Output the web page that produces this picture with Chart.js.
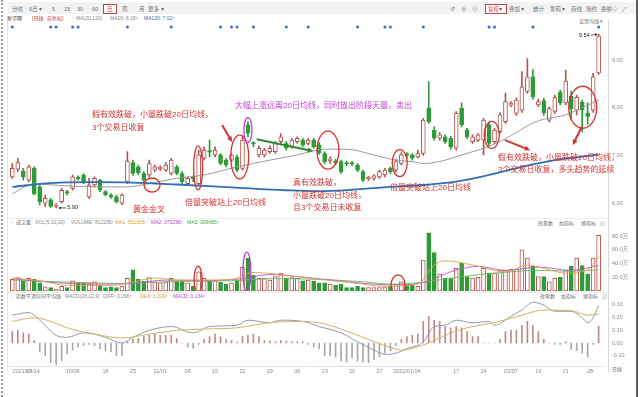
<!DOCTYPE html>
<html lang="zh-CN">
<head>
<meta charset="utf-8">
<title>日K线</title>
<script src="https://cdn.jsdelivr.net/npm/chart.js@4.4.1/dist/chart.umd.min.js"></script>
<style>
  html, body { margin: 0; padding: 0; }
  body { width: 640px; height: 397px; position: relative; overflow: hidden; background: #fff;
         font-family: 'Liberation Sans', 'Noto Sans CJK SC', sans-serif; }
  .pane { position: absolute; left: 0; }
  .lb { position: absolute; white-space: nowrap; line-height: 1; transform: scale(.5); transform-origin: 0 0; }
  .rule { position: absolute; }
</style>
</head>
<body>
<div class="rule" style="left:1px;top:0;width:0;height:397px;border-left:2px dotted #9a9a9a"></div>
<div class="rule" style="left:8px;top:2px;width:628px;height:12px;background:#f3f3f3"></div>
<div class="rule" style="left:103px;top:4px;width:12px;height:8px;border:1px solid #b44;background:#fff"></div>
<div class="rule" style="left:485px;top:4px;width:20px;height:8px;border:1px solid #b44;background:#fff"></div>
<div class="rule" style="left:7px;top:20px;width:1px;height:352px;background:#e6e6e6"></div>
<div class="rule" style="left:608px;top:20px;width:1px;height:352px;background:#d8d8d8"></div>
<div class="rule" style="left:636px;top:0;width:2px;height:397px;background:#5e5e5e"></div>
<div class="rule" style="left:8px;top:218px;width:600px;height:1px;background:#eeeeee"></div>
<div class="rule" style="left:8px;top:292px;width:600px;height:1px;background:#eeeeee"></div>

<canvas id="priceChart" class="pane" style="top:24px" width="640" height="194"></canvas>
<canvas id="volumeChart" class="pane" style="top:226px" width="640" height="65"></canvas>
<canvas id="macdChart" class="pane" style="top:300px" width="640" height="78"></canvas>

<script>
// ---- data ----
const tradingDays = {
  '2021/09': [14, 15, 16, 17, 22, 23, 24, 27, 28, 29, 30],
  '2021/10': [8, 11, 12, 13, 14, 15, 18, 19, 20, 21, 22, 25, 26, 27, 28, 29],
  '2021/11': [1, 2, 3, 4, 5, 8, 9, 10, 11, 12, 15, 16, 17, 18, 19, 22, 23, 24, 25, 26, 29, 30],
  '2021/12': [1, 2, 3, 6, 7, 8, 9, 10, 13, 14, 15, 16, 17, 20, 21, 22, 23, 24, 27, 28, 29, 30, 31],
  '2022/01': [4, 5, 6, 7, 10, 11, 12, 13, 14, 17, 18, 19, 20, 21, 24, 25, 26, 27, 28],
  '2022/02': [7, 8, 9, 10, 11, 14, 15, 16, 17, 18, 21, 22, 23, 24, 25, 28],
  '2022/03': [1]
};

const opens = [6.55,6.71,6.67,6.48,6.73,6.34,6.00,6.07,5.93,6.03,6.24,6.31,6.53,6.59,6.13,6.38,6.48,6.24,6.17,6.13,
  6.00,6.45,6.85,6.76,6.62,6.59,6.69,6.72,6.69,6.62,6.76,6.62,6.41,6.52,6.41,6.94,7.09,7.01,7.01,6.90,
  6.90,6.97,6.73,7.64,7.26,7.01,7.01,7.08,7.08,7.29,7.25,7.18,7.29,7.32,7.25,7.32,7.22,7.04,6.89,6.87,
  6.87,6.84,6.83,6.80,6.66,6.51,6.52,6.55,6.59,6.73,6.69,6.83,7.01,7.01,6.97,7.04,7.99,7.53,7.36,7.39,
  7.36,7.15,7.99,7.53,7.29,7.32,7.32,7.64,7.29,7.50,7.71,8.06,7.88,7.95,8.34,8.65,8.06,8.15,7.74,7.92,
  8.33,8.10,8.24,7.95,8.12,7.89,7.95,8.73];
const highs = [6.83,6.94,6.73,6.80,6.76,6.38,6.17,6.10,5.99,6.31,6.27,6.59,6.57,6.62,6.52,6.55,6.50,6.27,6.20,6.17,
  6.20,7.08,6.90,6.80,6.66,6.90,6.80,6.78,6.85,6.94,6.80,6.66,6.55,6.57,7.11,7.18,7.32,7.18,7.04,6.94,
  7.04,7.01,7.39,7.71,7.29,7.20,7.15,7.20,7.29,7.46,7.29,7.36,7.39,7.36,7.36,7.36,7.27,7.08,6.97,6.92,
  6.90,6.88,6.87,6.83,6.69,6.56,6.60,6.69,6.73,6.76,6.92,7.06,7.06,7.04,7.11,7.78,8.55,7.60,7.48,7.43,
  7.40,7.92,8.10,7.57,7.43,7.46,7.78,7.68,7.57,7.90,8.30,8.13,8.20,8.76,9.03,8.80,8.18,8.20,8.02,8.26,
  8.37,8.79,8.35,8.26,8.16,8.10,8.72,9.54];
const lows = [6.52,6.66,6.48,6.45,6.17,5.96,5.93,5.91,5.90,6.00,6.17,6.27,6.48,6.41,6.10,6.34,6.24,6.15,6.10,6.00,
  5.97,6.41,6.58,6.59,6.45,6.55,6.66,6.68,6.66,6.59,6.59,6.41,6.38,6.45,6.38,6.90,6.97,6.97,6.80,6.76,
  6.87,6.66,6.69,7.39,7.18,6.97,6.97,7.04,7.04,7.25,7.11,7.15,7.25,7.18,7.22,7.15,7.02,6.83,6.83,6.80,
  6.62,6.78,6.78,6.66,6.45,6.47,6.48,6.52,6.55,6.62,6.66,6.80,6.94,6.90,6.94,7.00,7.67,7.32,7.32,7.25,
  7.13,7.11,7.60,7.35,7.25,7.29,7.01,7.20,7.25,7.46,7.67,8.02,7.84,7.90,8.30,8.18,8.02,7.84,7.70,7.88,
  8.06,8.06,7.75,7.85,7.50,7.65,7.90,8.70];
const closes = [6.73,6.85,6.55,6.76,6.20,6.03,6.10,5.93,5.96,6.27,6.21,6.55,6.51,6.45,6.38,6.52,6.27,6.17,6.13,6.03,
  6.17,6.88,6.62,6.64,6.48,6.83,6.76,6.73,6.80,6.90,6.62,6.45,6.52,6.51,7.01,7.11,7.07,7.11,6.83,6.80,
  7.01,6.69,7.32,7.46,7.24,7.15,7.11,7.15,7.25,7.39,7.15,7.32,7.36,7.22,7.32,7.18,7.05,6.87,6.90,6.85,
  6.66,6.82,6.82,6.69,6.48,6.52,6.57,6.66,6.69,6.66,6.87,7.01,7.00,6.94,7.04,7.74,7.71,7.36,7.43,7.29,
  7.18,7.88,7.64,7.39,7.39,7.43,7.74,7.25,7.53,7.85,8.13,8.08,8.16,8.44,8.65,8.23,8.13,7.89,7.98,8.21,
  8.10,8.56,7.98,8.22,7.95,7.82,8.65,9.50];

// volume in 万 shares
const volumes = [17,19.5,14.6,18.5,17,12,6,5,2.5,7,5,15,12,12,11,13.5,8.5,5,6,5,
  7,18.5,31,17,14,19.5,13.5,12,13.5,18.5,13.5,14.5,12,7,28,18.5,15,15,12.5,10,
  12,16,34.6,47.7,23,18.5,18.5,16,21,26,18.5,19.5,18.5,15,16,14.5,12,12,10,8.5,
  10,5,5,7,5,5,5,5,6,7,10,13.5,8.5,8.5,7,45,85,56,25,18.5,
  18.5,33,40.4,21,19,20,33,26,26,31,30,32,32,60,48,36.5,21,21,13.5,18.5,
  20,30,36.5,48,37,25,48,81.2];

const macdHist = [0.09,0.10,0.08,0.07,0.02,-0.07,-0.10,-0.155,-0.17,-0.14,-0.085,-0.055,-0.03,-0.02,-0.01,-0.02,-0.045,-0.06,-0.07,-0.10,
  -0.10,0.01,0.03,0.035,0.05,0.06,0.07,0.06,0.06,0.06,0.035,0.00,-0.03,-0.04,-0.01,0.03,0.05,0.07,0.05,0.03,
  0.02,0.01,0.05,0.06,0.07,0.05,0.02,0.015,0.01,0.02,0.015,0.01,0.01,0.01,-0.01,-0.03,-0.045,-0.10,-0.10,-0.11,
  -0.14,-0.15,-0.12,-0.14,-0.15,-0.155,-0.13,-0.11,-0.08,-0.06,-0.02,0.03,0.05,0.06,0.07,0.17,0.21,0.18,0.17,0.13,
  0.12,0.13,0.12,0.09,0.05,0.05,0.00,0.00,0.00,0.03,0.09,0.10,0.10,0.14,0.17,0.14,0.09,0.03,0.00,-0.01,
  -0.01,0.01,-0.05,-0.06,-0.08,-0.11,-0.01,0.134];

// moving-average lines, read as [candle index, value]
const ma20Pts = [[0,6.20],[4,6.40],[10,6.36],[16,6.34],[21,6.34],[25,6.41],[30,6.52],[35,6.59],[41,6.76],[47,6.90],
  [52,7.01],[57,7.13],[61,7.13],[66,7.01],[70,6.90],[73,6.87],[75,6.83],[79,6.90],[82,7.01],[86,7.15],
  [90,7.35],[93,7.55],[95,7.68],[97,7.76],[101,7.85],[104,8.00],[107,8.16]];
const ma120Pts = [[0,6.34],[7,6.42],[15,6.44],[22,6.43],[30,6.39],[40,6.33],[50,6.27],[56,6.25],[62,6.28],[69,6.34],
  [75,6.38],[81,6.45],[87,6.59],[93,6.76],[99,6.90],[103,6.96],[107,7.02]];
const volMa1Pts = [[0,19],[5,15],[10,8],[18,8],[22,13],[26,19],[30,16],[35,16],[40,17],[44,27],[48,25],[52,21],
  [56,17],[62,12],[68,7],[74,10],[77,38],[79,44],[84,38],[90,28],[94,38],[97,33],[101,26],[105,31],[107,50.1]];
const volMa2Pts = [[0,18],[8,12],[15,10],[22,11],[28,16],[35,15],[42,18],[47,24],[52,21],[57,17],[63,12],[69,9],
  [75,12],[80,28],[85,36],[90,30],[96,35],[102,30],[107,37.3]];
const volMa3Pts = [[0,16],[10,13],[20,11],[30,14],[40,15],[48,18],[56,17],[63,14],[70,10],[76,14],[82,21],[88,26],
  [96,30],[102,29],[107,30.9]];
const diffPts = [[0,0.22],[3,0.24],[5,0.18],[8,0.06],[10,0.045],[13,0.08],[15,0.07],[17,0.045],[20,0.00],[22,0.045],
  [25,0.10],[29,0.13],[33,0.08],[36,0.13],[41,0.14],[43,0.18],[47,0.16],[49,0.18],[53,0.17],[56,0.13],
  [60,0.08],[63,0.01],[66,-0.055],[68,-0.09],[70,-0.08],[72,-0.045],[75,0.01],[77,0.13],[79,0.14],[81,0.18],
  [84,0.16],[87,0.17],[88,0.14],[91,0.21],[93,0.26],[95,0.32],[97,0.30],[99,0.25],[102,0.25],[104,0.20],
  [105,0.16],[106,0.20],[107,0.296]];
const deaPts = [[0,0.17],[4,0.20],[7,0.17],[10,0.12],[15,0.07],[20,0.04],[25,0.07],[30,0.10],[35,0.11],[41,0.12],
  [47,0.16],[53,0.17],[56,0.16],[60,0.11],[64,0.045],[68,-0.02],[71,-0.055],[74,-0.03],[77,0.02],[80,0.08],
  [84,0.13],[88,0.16],[93,0.22],[97,0.26],[102,0.255],[105,0.22],[107,0.229]];

// info markers above the candles (candle indices)
const eventIdx = [0, 7, 8, 11, 12, 21, 29, 38, 40, 41, 44, 50, 54, 63, 68, 69, 75, 87, 88, 95, 107];

// tick labels
const priceTicks = [6, 7, 8, 9];
const volumeTicks = [20, 40, 60, 80];
const macdTicks = [-0.1, 0, 0.1, 0.2, 0.3];
const tickDates = ['2021/09/14','2021/09/17','2021/10/08','2021/10/18','2021/10/25','2021/11/01','2021/11/08',
  '2021/11/15','2021/11/22','2021/11/29','2021/12/06','2021/12/13','2021/12/20','2021/12/27','2022/01/04',
  '2022/01/17','2022/01/24','2022/02/07','2022/02/14','2022/02/21','2022/02/28'];
const tickLabels = ['2021/09/14','17','10/08','18','25','11/01','08','15','22','29','06','13','20','27',
  '2022/01/04','17','24','02/07','14','21','28'];

// ---- build ----
const categories = [];
Object.keys(tradingDays).forEach(m => tradingDays[m].forEach(d => categories.push(m + '/' + String(d).padStart(2, '0'))));
const N = categories.length;
const idx = categories.map((_, i) => i);
const tickIdx = tickDates.map(d => categories.indexOf(d));

const UP = '#b5524c', DOWN = '#2f9b38';
const isUp = i => closes[i] >= opens[i];
const pts = arr => arr.map(([x, y]) => ({ x, y }));

Chart.defaults.animation = false;
Chart.defaults.events = [];
Chart.defaults.font.family = "'Liberation Sans', 'Noto Sans CJK SC', sans-serif";
Chart.defaults.plugins.legend.display = false;
Chart.defaults.plugins.tooltip.enabled = false;

function indexAxis(show) {
  return {
    type: 'linear', min: -0.5, max: N - 0.2, offset: false, display: show,
    grid: { display: false, drawTicks: false },
    border: { display: show, color: '#e4e4e4' },
    ticks: {
      autoSkip: false, maxRotation: 0, minRotation: 0, align: 'inner', padding: 2,
      color: '#8a8a8a', font: { size: 5.5 },
      callback: v => tickLabels[tickIdx.indexOf(v)]
    },
    afterBuildTicks: s => { s.ticks = tickIdx.map(v => ({ value: v })); },
    afterFit: s => {
      if (show) s.height = 12;
      s.paddingLeft = 0;
      s.paddingRight = 0;
    }
  };
}

function rightAxis(min, max, ticks, fmt) {
  return {
    position: 'right', min, max,
    grid: { display: false, drawTicks: false },
    border: { display: false },
    ticks: { padding: 9, color: '#8a8a8a', font: { size: 5.5 }, callback: fmt },
    afterBuildTicks: s => { s.ticks = ticks.map(v => ({ value: v })); },
    afterFit: s => { s.width = 37; s.paddingTop = 0; s.paddingBottom = 0; }
  };
}

function ring(ctx, cx, cy, rx, ry, color) {
  ctx.strokeStyle = color;
  ctx.lineWidth = 1.3;
  ctx.beginPath();
  ctx.ellipse(cx, cy, rx, ry, 0, 0, Math.PI * 2);
  ctx.stroke();
}

function arrow(ctx, x1, y1, x2, y2, color, w, head) {
  const a = Math.atan2(y2 - y1, x2 - x1);
  ctx.strokeStyle = color;
  ctx.fillStyle = color;
  ctx.lineWidth = w;
  ctx.beginPath();
  ctx.moveTo(x1, y1);
  ctx.lineTo(x2 - Math.cos(a) * head * 0.7, y2 - Math.sin(a) * head * 0.7);
  ctx.stroke();
  ctx.beginPath();
  ctx.moveTo(x2, y2);
  ctx.lineTo(x2 - head * Math.cos(a - 0.45), y2 - head * Math.sin(a - 0.45));
  ctx.lineTo(x2 - head * Math.cos(a + 0.45), y2 - head * Math.sin(a + 0.45));
  ctx.closePath();
  ctx.fill();
}

const RED = '#d2322f', PINK = '#c23bd6';

// rings / arrows in data coordinates: i = candle index, p = price
const priceRings = [
  { i: 25.5, p: 6.38, rx: 8, ry: 7, c: RED },
  { i: 33.9, p: 6.74, rx: 4.5, ry: 22, c: RED },
  { i: 41.5, p: 6.97, rx: 9, ry: 22, c: RED },
  { i: 43, p: 7.53, rx: 4, ry: 12.5, c: PINK },
  { i: 57.6, p: 7.11, rx: 11, ry: 19, c: RED },
  { i: 70.7, p: 6.84, rx: 7.5, ry: 13.5, c: RED },
  { i: 87.5, p: 7.43, rx: 7.5, ry: 13.5, c: RED },
  { i: 104.1, p: 8.01, rx: 14, ry: 21, c: RED }
];
const priceArrows = [
  { from: [38.3, 7.64], to: [40.1, 7.28], c: RED, w: 2, head: 6 },
  { from: [44.6, 7.34], to: [54.9, 7.09], c: '#2b8a2e', w: 2, head: 6 },
  { from: [89.9, 7.32], to: [94.5, 7.11], c: RED, w: 2, head: 6 },
  { from: [103.9, 7.60], to: [102.3, 7.22], c: RED, w: 2, head: 6 }
];
const volumeRings = [
  { i: 33.9, v: 16, rx: 4, ry: 14, c: RED },
  { i: 42.8, v: 27.7, rx: 4, ry: 20, c: PINK },
  { i: 70.4, v: 8.8, rx: 7, ry: 10, c: RED }
];

const priceOverlay = {
  id: 'priceOverlay',
  afterDraw(chart) {
    const { ctx, scales: { x, y } } = chart;
    ctx.save();
    ctx.fillStyle = '#3b6cc6';
    eventIdx.forEach(i => {
      ctx.beginPath();
      ctx.arc(x.getPixelForValue(i), 3, 1.5, 0, Math.PI * 2);
      ctx.fill();
    });
    priceRings.forEach(r => ring(ctx, x.getPixelForValue(r.i), y.getPixelForValue(r.p), r.rx, r.ry, r.c));
    priceArrows.forEach(a => arrow(ctx, x.getPixelForValue(a.from[0]), y.getPixelForValue(a.from[1]),
      x.getPixelForValue(a.to[0]), y.getPixelForValue(a.to[1]), a.c, a.w, a.head));

    // lowest low and highest high labels
    const lo = Math.min(...lows), hi = Math.max(...highs);
    const loX = x.getPixelForValue(lows.indexOf(lo)), loY = y.getPixelForValue(lo);
    const hiX = x.getPixelForValue(highs.indexOf(hi)), hiY = y.getPixelForValue(hi);
    arrow(ctx, loX + 10, loY, loX + 2, loY, '#222', 0.7, 3);
    arrow(ctx, hiX - 8, hiY + 1, hiX - 1, hiY, '#222', 0.7, 3);
    ctx.fillStyle = '#222';
    ctx.font = "5.5px 'Liberation Sans', sans-serif";
    ctx.textBaseline = 'middle';
    ctx.textAlign = 'left';
    ctx.fillText(lo.toFixed(2), loX + 11, loY);
    ctx.textAlign = 'right';
    ctx.fillText(hi.toFixed(2), hiX - 9, hiY + 1);
    ctx.restore();
  }
};

const volumeOverlay = {
  id: 'volumeOverlay',
  afterDraw(chart) {
    const { ctx, scales: { x, y } } = chart;
    ctx.save();
    volumeRings.forEach(r => ring(ctx, x.getPixelForValue(r.i), y.getPixelForValue(r.v), r.rx, r.ry, r.c));
    ctx.restore();
  }
};

const layout = { padding: { left: 9.6, right: 0, top: 0, bottom: 0 } };

// A. price pane
new Chart(document.getElementById('priceChart'), {
  type: 'bar',
  data: {
    datasets: [
      {
        label: 'wick', data: idx.map(i => ({ x: i, y: [lows[i], highs[i]] })),
        backgroundColor: idx.map(i => isUp(i) ? UP : DOWN), barThickness: 1, grouped: false, order: 3
      },
      {
        label: 'body', data: idx.map(i => ({ x: i, y: [opens[i], closes[i]] })),
        backgroundColor: idx.map(i => isUp(i) ? '#ffffff' : DOWN),
        borderColor: idx.map(i => isUp(i) ? UP : DOWN),
        borderWidth: 1, borderSkipped: false, barThickness: 4, minBarLength: 1.5, grouped: false, order: 2
      },
      {
        type: 'line', label: 'MA20', data: pts(ma20Pts), borderColor: '#9a9a9a', borderWidth: 1,
        pointRadius: 0, cubicInterpolationMode: 'monotone', order: 1
      },
      {
        type: 'line', label: 'MA120', data: pts(ma120Pts), borderColor: '#2f6fb5', borderWidth: 1.8,
        pointRadius: 0, cubicInterpolationMode: 'monotone', order: 0
      }
    ]
  },
  options: {
    responsive: false, layout,
    scales: { x: indexAxis(false), y: rightAxis(5.688, 9.755, priceTicks, v => v.toFixed(2)) }
  },
  plugins: [priceOverlay]
});

// B. volume pane
new Chart(document.getElementById('volumeChart'), {
  type: 'bar',
  data: {
    datasets: [
      {
        label: 'VOLUME', data: idx.map(i => ({ x: i, y: volumes[i] })),
        backgroundColor: idx.map(i => isUp(i) ? '#ffffff' : DOWN),
        borderColor: idx.map(i => isUp(i) ? UP : DOWN),
        borderWidth: 1, borderSkipped: false, barThickness: 4, order: 3
      },
      { type: 'line', label: 'MA1', data: pts(volMa1Pts), borderColor: '#e0a444', borderWidth: 0.9, pointRadius: 0, cubicInterpolationMode: 'monotone', order: 0 },
      { type: 'line', label: 'MA2', data: pts(volMa2Pts), borderColor: '#c451d2', borderWidth: 0.9, pointRadius: 0, cubicInterpolationMode: 'monotone', order: 1 },
      { type: 'line', label: 'MA3', data: pts(volMa3Pts), borderColor: '#5cbf5c', borderWidth: 0.9, pointRadius: 0, cubicInterpolationMode: 'monotone', order: 2 }
    ]
  },
  options: {
    responsive: false, layout,
    scales: { x: indexAxis(false), y: rightAxis(0, 94.9, volumeTicks, v => v.toFixed(1) + '万') }
  },
  plugins: [volumeOverlay]
});

// C. MACD pane
new Chart(document.getElementById('macdChart'), {
  type: 'bar',
  data: {
    datasets: [
      {
        label: 'MACD', data: idx.map(i => ({ x: i, y: macdHist[i] })),
        backgroundColor: idx.map(i => macdHist[i] >= 0 ? '#bd8a8a' : '#a8a8a8'), barThickness: 1, order: 2
      },
      { type: 'line', label: 'DIFF', data: pts(diffPts), borderColor: '#8e98b2', borderWidth: 1, pointRadius: 0, cubicInterpolationMode: 'monotone', order: 1 },
      { type: 'line', label: 'DEA', data: pts(deaPts), borderColor: '#d4b264', borderWidth: 1, pointRadius: 0, cubicInterpolationMode: 'monotone', order: 0 }
    ]
  },
  options: {
    responsive: false, layout,
    scales: { x: indexAxis(true), y: rightAxis(-0.181, 0.339, macdTicks, v => v.toFixed(2)) }
  }
});

// ---- page text (toolbar, headers, notes) ----
function label(x, y, text, color, size) {
  const s = document.createElement('span');
  s.className = 'lb';
  s.textContent = text;
  s.style.left = x + 'px';
  s.style.top = (y - size / 2) + 'px';
  s.style.fontSize = (size * 2) + 'px';
  s.style.color = color;
  document.body.appendChild(s);
}

const GREY = '#6e6e6e';
[[12,'分时'],[29,'5日'],[39,'▾'],[52,'5'],[64,'15'],[77,'30'],[92,'60'],[122,'周'],[139,'月'],[148,'更多'],[161,'▾'],
 [450,'↺'],[461,'⊕'],[472,'⊖'],[509,'叠加'],[521,'▾'],[533,'统计'],[550,'筹码'],[562,'▾'],[571,'画线'],
 [586,'简约'],[601,'换肤'],[612,'◇'],[622,'⤢']].forEach(([x, t]) => label(x, 8.5, t, GREY, 5.5));
label(106.5, 8.5, '日', '#b33', 5.5);
label(488, 8.5, '复权', '#c33', 5.5);
label(499, 8.5, '▾', '#c33', 5.5);

label(7, 18, '新华网', '#333', 5);
label(32, 18, '[日线', '#c33', 5);
label(47, 18, '前复权]', '#c33', 5);
label(72, 18, '○', '#aaa', 5);
label(76, 18, 'MA(20,120)', '#888', 5);
label(110, 18, 'MA20: 8.18↑', '#888', 5);
label(144, 18, 'MA120: 7.02↑', '#2d6cb4', 5);
label(579, 21, '设置均线 ▾', '#777', 5);

label(10, 222, '○', '#aaa', 5);
label(16, 222, '成交量', GREY, 5);
label(35, 222, 'VOL(5,10,20)', '#888', 5);
label(71, 222, 'VOLUME: 812236↑', '#888', 5);
label(115, 222, 'MA1: 501005↑', '#d8a030', 5);
label(151, 222, 'MA2: 373296↑', '#c040c8', 5);
label(187, 222, 'MA3: 309065↑', '#3aa83a', 5);

label(10, 296, '○', '#aaa', 5);
label(16, 296, '指数平滑异同平均线', GREY, 5);
label(65, 296, 'MACD(26,12,9)', '#888', 5);
label(103, 296, 'DIFF: 0.296↑', '#888', 5);
label(140, 296, 'DEA: 0.229↑', '#d2a640', 5);
label(173, 296, 'MACD: 0.134↑', '#c040c8', 5);

[[223, 538], [296, 540]].forEach(([y, x0]) => {
  label(x0, y, '改参数', GREY, 5);
  label(x0 + 21, y, '加指标', GREY, 5);
  label(x0 + 43, y, '换指标', GREY, 5);
  label(x0 + 62, y, '⊙', GREY, 5);
});
label(612, 369, '日线', GREY, 5);

// annotations written on the chart
const notes = [
  [92, 114, '假有效跌破，小量跌破20日均线，', RED],
  [92, 127, '3个交易日收复', RED],
  [235, 105, '大幅上涨远离20日均线，同时放出阶段天量，卖出', PINK],
  [133, 209, '黄金金叉', RED],
  [185, 202, '倍量突破站上20日均线', RED],
  [293, 182, '真有效跌破，', RED],
  [293, 195, '小量跌破20日均线，', RED],
  [293, 207, '且3个交易日未收复', RED],
  [390, 187, '倍量突破站上20日均线', RED],
  [498, 157, '假有效跌破，小量跌破20日均线，', RED],
  [498, 169, '3个交易日收复，多头趋势的延续', RED]
];
notes.forEach(([x, y, t, c]) => label(x, y, t, c, 8));
</script>
</body>
</html>
